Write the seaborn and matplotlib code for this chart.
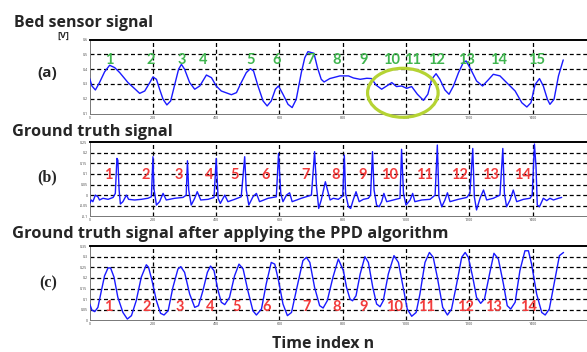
import matplotlib
matplotlib.use("Agg")
import matplotlib.pyplot as plt
from matplotlib.patches import Ellipse
import pandas as pd
import seaborn as sns

# ---- (a) bed sensor signal [V] ----
bed_n = [0, 7, 18, 31, 47, 63, 79, 95, 121, 142, 158, 174, 190, 200, 211, 221, 232, 244, 256, 269,
         281, 290, 300, 316, 332, 348, 369, 385, 400, 416, 448, 464, 479, 495, 508, 518, 532, 548, 561, 574,
         587, 597, 611, 627, 640, 653, 669, 680, 690, 709, 720, 732, 741, 759, 791, 818, 834, 855, 876, 891,
         905, 923, 939, 955, 970, 986, 1002, 1018, 1036, 1055, 1069, 1081, 1095, 1107, 1123, 1136, 1150, 1166, 1181, 1190,
         1202, 1223, 1242, 1260, 1276, 1297, 1318, 1345, 1366, 1382, 1395, 1408, 1422, 1434, 1447, 1455, 1468, 1482, 1497]
bed_v = [0.336, 0.286, 0.259, 0.309, 0.381, 0.426, 0.410, 0.376, 0.309, 0.268, 0.236, 0.252, 0.309, 0.347, 0.331, 0.264, 0.196, 0.158, 0.185, 0.297,
         0.399, 0.432, 0.399, 0.309, 0.264, 0.286, 0.360, 0.342, 0.286, 0.252, 0.227, 0.241, 0.309, 0.376, 0.403, 0.387, 0.286, 0.185, 0.151, 0.185,
         0.264, 0.286, 0.230, 0.162, 0.140, 0.196, 0.376, 0.477, 0.518, 0.507, 0.410, 0.331, 0.313, 0.336, 0.354, 0.354, 0.340, 0.331, 0.338, 0.336,
         0.293, 0.264, 0.286, 0.309, 0.282, 0.286, 0.270, 0.282, 0.230, 0.189, 0.230, 0.331, 0.369, 0.331, 0.259, 0.230, 0.286, 0.376, 0.444, 0.455,
         0.410, 0.320, 0.286, 0.327, 0.365, 0.354, 0.309, 0.252, 0.173, 0.144, 0.173, 0.295, 0.336, 0.286, 0.196, 0.162, 0.196, 0.354, 0.462]
bed_label_n = [63, 192, 290, 358, 508, 592, 699, 781, 865, 953, 1021, 1095, 1192, 1292, 1413]
bed_label_v = 0.461

# ---- (b) ground truth signal ----
gt_n = [0, 5, 10, 18, 26, 31, 42, 58, 74, 81, 86, 89, 93, 97, 105, 116, 123, 142, 163, 184,
        195, 200, 203, 211, 221, 232, 242, 269, 295, 305, 309, 313, 321, 332, 340, 351, 374, 393, 400, 406,
        413, 427, 437, 458, 479, 490, 495, 503, 516, 527, 537, 564, 590, 597, 604, 611, 622, 632, 640, 669,
        701, 711, 717, 724, 732, 745, 760, 770, 786, 800, 805, 809, 818, 825, 833, 842, 852, 865, 881, 888,
        894, 899, 907, 915, 923, 930, 939, 960, 981, 986, 992, 1000, 1013, 1021, 1028, 1050, 1076, 1092, 1099, 1104,
        1113, 1123, 1131, 1139, 1165, 1192, 1202, 1211, 1216, 1223, 1234, 1245, 1255, 1276, 1297, 1306, 1311, 1318, 1329, 1339,
        1350, 1371, 1392, 1399, 1406, 1411, 1415, 1422, 1434, 1445, 1455, 1466, 1482, 1492]
gt_v = [-0.039, -0.023, -0.031, 0.000, -0.008, -0.023, -0.015, -0.020, -0.011, 0.008, 0.173, 0.165, 0.024, -0.042, -0.031, 0.000, -0.020, -0.023, -0.020, -0.015,
        -0.008, 0.181, 0.032, -0.047, -0.031, 0.008, -0.023, -0.015, -0.011, 0.000, 0.162, 0.024, -0.047, -0.015, 0.016, -0.023, -0.020, -0.011, 0.173, -0.015,
        -0.039, 0.000, -0.031, -0.020, -0.008, 0.181, 0.024, -0.047, -0.008, 0.008, -0.031, -0.015, -0.008, 0.197, 0.008, -0.031, 0.000, 0.011, -0.031, -0.015,
        0.000, 0.205, 0.040, -0.063, -0.023, 0.063, -0.023, -0.015, -0.020, -0.004, 0.189, 0.008, -0.055, -0.063, -0.023, 0.016, -0.031, -0.020, -0.015, 0.000,
        0.205, 0.024, -0.047, -0.055, -0.031, 0.008, -0.031, -0.023, -0.015, 0.216, 0.008, -0.047, -0.023, 0.008, -0.031, -0.023, -0.020, 0.000, 0.236, -0.008,
        -0.055, -0.023, 0.011, -0.031, -0.020, -0.011, 0.008, 0.220, -0.008, -0.070, -0.015, 0.024, -0.023, -0.015, 0.000, 0.220, 0.008, -0.055, -0.023, 0.024,
        -0.031, -0.020, -0.015, 0.000, 0.241, 0.134, -0.047, -0.055, -0.015, -0.026, -0.015, -0.023, -0.015, -0.011]
gt_label_n = [58, 177, 281, 379, 458, 556, 682, 776, 863, 947, 1060, 1169, 1268, 1369]
gt_label_v = 0.095

# ---- (c) ground truth after the PPD algorithm ----
ppd_n = [0, 7, 16, 26, 37, 47, 58, 66, 77, 89, 105, 119, 132, 147, 163, 179, 186, 197, 211, 224,
         235, 248, 263, 279, 288, 300, 316, 332, 344, 358, 372, 382, 393, 406, 416, 427, 442, 458, 472, 485,
         500, 516, 527, 543, 558, 574, 585, 597, 611, 625, 638, 653, 674, 685, 696, 711, 727, 738, 751, 769,
         786, 802, 812, 823, 831, 842, 855, 870, 881, 895, 907, 918, 928, 944, 962, 976, 989, 1004, 1018, 1032,
         1044, 1060, 1074, 1086, 1099, 1116, 1131, 1144, 1160, 1176, 1187, 1197, 1211, 1223, 1236, 1248, 1264, 1278, 1292, 1308,
         1320, 1331, 1345, 1360, 1376, 1387, 1397, 1413, 1429, 1440, 1453, 1468, 1485, 1498]
ppd_v = [0.077, 0.048, 0.041, 0.061, 0.140, 0.210, 0.247, 0.247, 0.203, 0.108, 0.037, 0.006, 0.022, 0.092, 0.203, 0.262, 0.250, 0.187, 0.092, 0.033,
         0.025, 0.045, 0.155, 0.242, 0.253, 0.226, 0.124, 0.061, 0.069, 0.140, 0.226, 0.256, 0.234, 0.140, 0.085, 0.074, 0.108, 0.210, 0.265, 0.242,
         0.140, 0.045, 0.025, 0.053, 0.171, 0.273, 0.265, 0.187, 0.077, 0.022, 0.037, 0.140, 0.281, 0.297, 0.273, 0.155, 0.069, 0.058, 0.092, 0.203,
         0.289, 0.234, 0.155, 0.100, 0.092, 0.116, 0.218, 0.300, 0.273, 0.155, 0.077, 0.064, 0.092, 0.218, 0.305, 0.273, 0.171, 0.053, 0.019, 0.037,
         0.124, 0.273, 0.320, 0.297, 0.203, 0.061, 0.025, 0.053, 0.171, 0.297, 0.320, 0.297, 0.203, 0.108, 0.080, 0.100, 0.218, 0.316, 0.289, 0.171,
         0.069, 0.053, 0.085, 0.234, 0.328, 0.328, 0.265, 0.124, 0.037, 0.025, 0.053, 0.171, 0.305, 0.320]
ppd_label_n = [60, 179, 284, 382, 464, 558, 685, 781, 865, 965, 1065, 1187, 1276, 1387]
ppd_label_v = 0.061

x_ticks = [0, 200, 400, 600, 800, 1000, 1200, 1400]
a_yticks = [0.1, 0.2, 0.3, 0.4, 0.5, 0.6]
b_yticks = [-0.1, -0.05, 0, 0.05, 0.1, 0.15, 0.2, 0.25]
c_yticks = [0, 0.05, 0.1, 0.15, 0.2, 0.25, 0.3, 0.35]

sns.set_style("white")
plt.rcParams['font.family'] = ['Open Sans', 'DejaVu Sans']

W, H = 587, 352
fig = plt.figure(figsize=(W / 100, H / 100), dpi=100)

LINE = "#1a1aff"
GREEN = "#3fb54e"
RED = "#f23b3b"
X0, XR = 89.7, 595.8


def make_axes(top_px, bottom_px):
    return fig.add_axes([X0 / W, 1 - bottom_px / H, (XR - X0) / W, (bottom_px - top_px) / H])


def style(ax, yticks, ylabels):
    ax.set_xlim(0, 1600)
    ax.set_ylim(yticks[0], yticks[-1])
    ax.set_xticks(x_ticks)
    ax.set_xticklabels([str(t) for t in x_ticks], fontsize=2.6, color="#444444")
    ax.set_yticks(yticks)
    ax.set_yticklabels(ylabels, fontsize=2.6, color="#444444")
    ax.tick_params(axis="both", length=1.2, width=0.4, pad=1.5, direction="in")
    ax.set_xlabel("")
    ax.set_ylabel("")
    for yv in yticks[1:-1]:
        ax.axhline(yv, color="black", lw=0.9, ls=(0, (3.2, 2.2)), zorder=1)
    for xv in x_ticks[1:]:
        ax.axvline(xv, color="black", lw=0.9, ls=(0, (3.2, 2.2)), zorder=1)
    for side in ("left", "bottom", "right"):
        ax.spines[side].set_color("#777777")
        ax.spines[side].set_linewidth(0.7)
    ax.spines["top"].set_color("black")
    ax.spines["top"].set_linewidth(1.4)


ax_a = make_axes(39.5, 113.5)
ax_b = make_axes(142.1, 216.3)
ax_c = make_axes(246.1, 320.3)

df_a = pd.DataFrame({"n": bed_n, "v": bed_v})
df_b = pd.DataFrame({"n": gt_n, "v": gt_v})
df_c = pd.DataFrame({"n": ppd_n, "v": ppd_v})

for ax, df in ((ax_a, df_a), (ax_b, df_b), (ax_c, df_c)):
    sns.lineplot(data=df, x="n", y="v", ax=ax, color=LINE, lw=1.0,
                 sort=False, estimator=None, zorder=3)

style(ax_a, a_yticks, ["0.1", "0.2", "0.3", "0.4", "0.5", "0.6"])
style(ax_b, b_yticks, ["-0.1", "-0.05", "0", "0.05", "0.1", "0.15", "0.2", "0.25"])
style(ax_c, c_yticks, ["0", "0.05", "0.1", "0.15", "0.2", "0.25", "0.3", "0.35"])

# peak numbering
num_font = ["Lato", "DejaVu Sans"]
for i, n in enumerate(bed_label_n, start=1):
    ax_a.text(n, bed_label_v, str(i), color=GREEN, fontsize=10.5, fontweight="bold",
              ha="center", va="center", zorder=4, family=num_font)
for i, n in enumerate(gt_label_n, start=1):
    ax_b.text(n, gt_label_v, str(i), color=RED, fontsize=10.5, fontweight="bold",
              ha="center", va="center", zorder=4, family=num_font)
for i, n in enumerate(ppd_label_n, start=1):
    ax_c.text(n, ppd_label_v, str(i), color=RED, fontsize=10.5, fontweight="bold",
              ha="center", va="center", zorder=4, family=num_font)

# highlighted region in the bed sensor trace
ax_a.add_patch(Ellipse((990, 0.240), 223, 0.331, fill=False, edgecolor="#b5d333",
                       lw=2.3, clip_on=False, zorder=5))

# titles and panel tags
def ftext(x, y, s, **kw):
    fig.text(x / W, 1 - y / H, s, **kw)

ftext(14, 27, "Bed sensor signal", fontsize=11.5, fontweight="bold", va="baseline")
ftext(12, 135.5, "Ground truth signal", fontsize=11.8, fontweight="bold", va="baseline")
ftext(12, 237.5, "Ground truth signal after applying the PPD algorithm", fontsize=11.85,
      fontweight="bold", va="baseline")
ftext(272, 348, "Time index n", fontsize=11.5, fontweight="bold", va="baseline")
ftext(57, 36, "[V]", fontsize=6.5, fontweight="bold", va="center")
ftext(47, 73, "(a)", fontsize=11, fontweight="bold", ha="center", va="center")
ftext(47, 177, "(b)", fontsize=11.5, fontweight="bold", ha="center", va="center",
      family=["Liberation Serif", "DejaVu Serif"])
ftext(48, 283, "(c)", fontsize=11.5, fontweight="bold", ha="center", va="center",
      family=["Liberation Serif", "DejaVu Serif"])

fig.savefig("out.png", dpi=100)
